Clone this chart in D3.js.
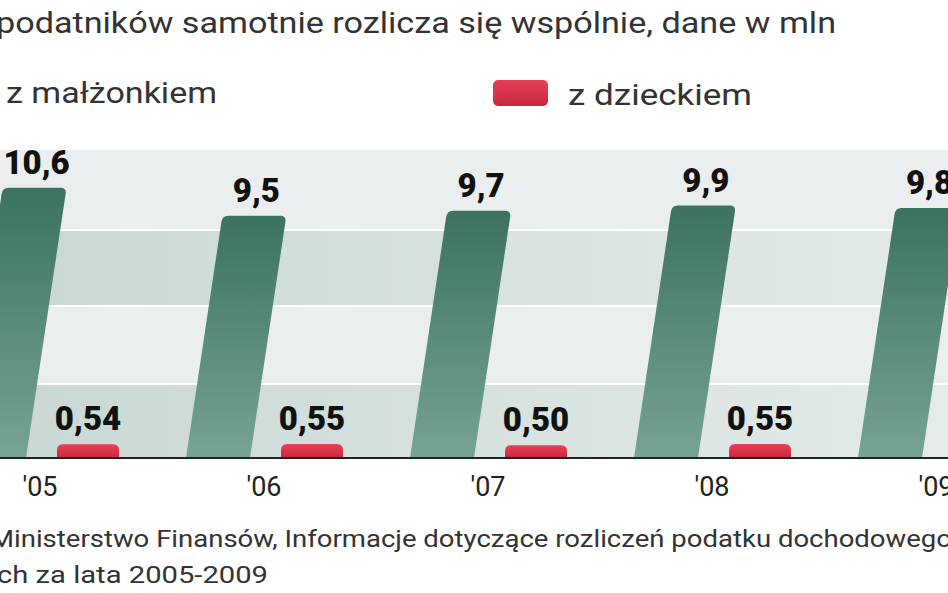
<!DOCTYPE html><html><head><meta charset="utf-8">
<script src="https://cdn.jsdelivr.net/npm/d3@7"></script>
<style>body{margin:0;background:#fff}svg{display:block}</style></head><body>
<script>
const years=["'05","'06","'07","'08","'09"];
const spouse=[10.6,9.5,9.7,9.9,9.8];
const spouseLabels=["10,6","9,5","9,7","9,9","9,8"];
const child=[0.54,0.55,0.50,0.55,0.55];
const childLabels=["0,54","0,55","0,50","0,55",""];
const W=948,H=593;
const svg=d3.select("body").append("svg").attr("width",W).attr("height",H).style("font-family","Roboto, sans-serif");
const defs=svg.append("defs");
const gg=defs.append("linearGradient").attr("id","gg").attr("x1",0).attr("y1",0).attr("x2",0).attr("y2",1);
gg.append("stop").attr("offset",0).attr("stop-color","#3c7260");
gg.append("stop").attr("offset",1).attr("stop-color","#76a396");
const rg=defs.append("linearGradient").attr("id","rg").attr("x1",0).attr("y1",0).attr("x2",0).attr("y2",1);
rg.append("stop").attr("offset",0).attr("stop-color","#e8405a");
rg.append("stop").attr("offset",1).attr("stop-color","#c8283c");
const bandG=defs.append("linearGradient").attr("id","bg").attr("x1",0).attr("y1",0).attr("x2",1).attr("y2",0);
bandG.append("stop").attr("offset",0).attr("stop-color","#c9d8d4");
bandG.append("stop").attr("offset",1).attr("stop-color","#e4ebe9");

const x=d3.scaleBand().domain(years).range([-72,1048]);
const y=d3.scaleLinear().domain([0,10]).range([458,203]);
const base=y(0);
const bands=[[150,230,"#eaeeee"],[230,306,"url(#bg)"],[306,384,"#eaeeee"],[384,base,"url(#bg)"]];
bands.forEach(b=>svg.append("rect").attr("x",0).attr("width",W).attr("y",b[0]).attr("height",b[1]-b[0]).attr("fill",b[2]));
[230,306,384].forEach(v=>svg.append("line").attr("x1",0).attr("x2",W).attr("y1",v).attr("y2",v).attr("stroke","#fff").attr("stroke-width",2));

const bw=64, slant=36/240;
function txt(xp,yp,size,s,len,weight){
  const t=svg.append("text").attr("x",xp).attr("y",yp).attr("font-size",size).attr("fill","#333").text(s);
  if(weight) t.attr("font-weight",weight);
  if(len) t.attr("textLength",len).attr("lengthAdjust","spacingAndGlyphs");
  return t;
}
years.forEach((yr,i)=>{
  const cx=x(yr)+x.bandwidth()/2;
  const gx=cx-46;
  const top=y(spouse[i]), h=base-top, sh=h*slant, r=6;
  const p=d3.path();
  p.moveTo(gx-bw/2,base);
  p.lineTo(gx-bw/2+sh-r*slant, top+r);
  p.quadraticCurveTo(gx-bw/2+sh, top, gx-bw/2+sh+r, top);
  p.lineTo(gx+bw/2+sh-r, top);
  p.quadraticCurveTo(gx+bw/2+sh, top, gx+bw/2+sh-r*slant, top+r);
  p.lineTo(gx+bw/2,base); p.closePath();
  svg.append("path").attr("d",p.toString()).attr("fill","url(#gg)");
  svg.append("text").attr("x",gx+sh+2).attr("y",top-14).attr("text-anchor","middle")
    .attr("font-size",33).attr("font-weight",900).attr("fill","#111").text(spouseLabels[i]);
  const rx=cx+48, rt=y(child[i]);
  svg.append("path").attr("d",`M${rx-31},${base}L${rx-31},${rt+6}Q${rx-31},${rt} ${rx-25},${rt}L${rx+25},${rt}Q${rx+31},${rt} ${rx+31},${rt+6}L${rx+31},${base}Z`).attr("fill","url(#rg)");
  if(childLabels[i]) svg.append("text").attr("x",rx).attr("y",rt-14).attr("text-anchor","middle")
    .attr("font-size",33).attr("font-weight",900).attr("fill","#111").text(childLabels[i]);
  svg.append("text").attr("x",cx).attr("y",base+38).attr("text-anchor","middle")
    .attr("font-size",27).attr("fill","#222").text(yr);
});
svg.append("line").attr("x1",0).attr("x2",W).attr("y1",base).attr("y2",base).attr("stroke","#222").attr("stroke-width",2);

txt(-4,33,30,"podatników samotnie rozlicza się wspólnie, dane w mln",840);
txt(6,103,30,"z małżonkiem",211);
svg.append("rect").attr("x",493).attr("y",80).attr("width",55).attr("height",26).attr("rx",5).attr("fill","url(#rg)");
txt(568,105,30,"z dzieckiem",184);
txt(-10,547,23,"Ministerstwo Finansów, Informacje dotyczące rozliczeń podatku dochodowego",962);
txt(-3,583,23,"ch za lata 2005-2009",271);
</script></body></html>
